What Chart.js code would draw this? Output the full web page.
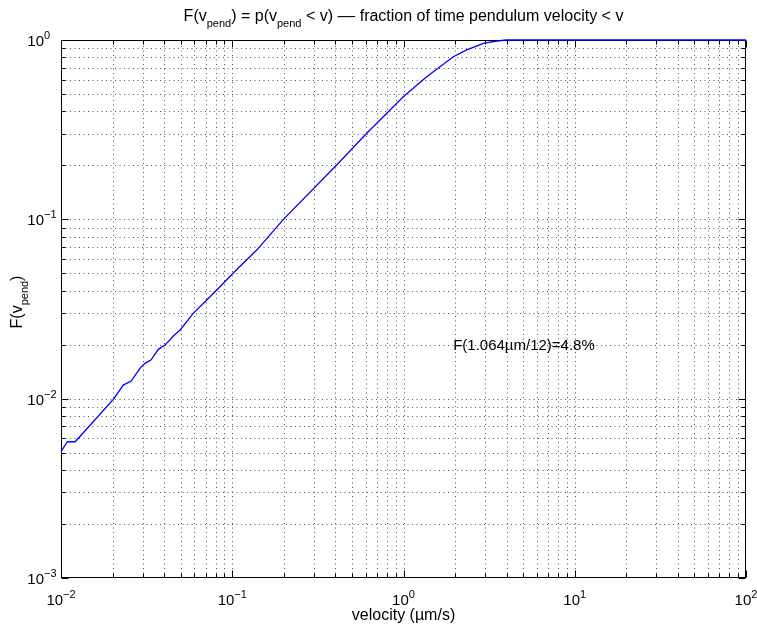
<!DOCTYPE html>
<html><head><meta charset="utf-8">
<script src="https://cdn.jsdelivr.net/npm/chart.js@4/dist/chart.umd.min.js"></script>
<style>html,body{margin:0;padding:0;background:#fff}#wrap{width:757px;height:624px;position:relative}</style>
</head><body><div id="wrap"><canvas id="c" width="757" height="624"></canvas></div>
<script>
// ---- data ----
const velocity = [0.01, 0.0109, 0.0121, 0.0202, 0.0231, 0.0257, 0.0289, 0.0309, 0.0335, 0.0370, 0.0405, 0.0453, 0.0496, 0.0592, 0.0710, 0.0848, 0.101, 0.139, 0.199, 0.407, 0.61, 0.762, 0.997, 1.366, 1.954, 2.34, 2.93, 3.5, 4.0, 100];
const fraction = [0.00506, 0.00575, 0.00575, 0.0099, 0.0119, 0.01254, 0.01475, 0.01574, 0.01642, 0.01884, 0.0199, 0.02234, 0.02415, 0.0299, 0.0355, 0.0421, 0.0500, 0.0674, 0.100, 0.201, 0.302, 0.373, 0.483, 0.624, 0.807, 0.88, 0.958, 0.987, 1.0, 1.0];
const xDecades = [-2, -1, 0, 1, 2];
const yDecades = [-3, -2, -1, 0];
const titleParts = [["F(v", 0], ["pend", -1], [") = p(v", 0], ["pend", -1], [" < v) –– fraction of time pendulum velocity < v", 0]];
const xLabelText = "velocity (µm/s)";
const yLabelParts = [["F(v", 0], ["pend", -1], [")", 0]];
const annotationText = "F(1.064µm/12)=4.8%";
const annotationAnchor = {x: 1.95, y: 0.0187};

const FONT = '"Liberation Sans", Arial, Helvetica, sans-serif';
const FS = 15;      // tick labels, annotation
const FS_LAB = 16;  // title and axis labels
const SUB = 11;     // subscript / superscript size

function minorTicks(decades) {
  const t = [];
  for (let i = 0; i < decades.length - 1; i++)
    for (let d = 1; d <= 9; d++) t.push(d * Math.pow(10, decades[i]));
  t.push(Math.pow(10, decades[decades.length - 1]));
  return t;
}
const xTickVals = minorTicks(xDecades);
const yTickVals = minorTicks(yDecades);

function partsWidth(ctx, parts, size) {
  let w = 0;
  for (const [s, lvl] of parts) {
    ctx.font = (lvl ? SUB : size) + 'px ' + FONT;
    w += ctx.measureText(s).width;
  }
  return w;
}
function drawParts(ctx, parts, x, y, size) {
  let cx = x;
  for (const [s, lvl] of parts) {
    const fs = lvl ? SUB : size;
    ctx.font = fs + 'px ' + FONT;
    const dy = lvl < 0 ? 6 : (lvl > 0 ? -7 : 0);
    ctx.fillText(s, cx, y + dy);
    cx += ctx.measureText(s).width;
  }
}

const decorPlugin = {
  id: 'decor',
  beforeDatasetsDraw(chart) {
    const ctx = chart.ctx, a = chart.chartArea;
    const xs = chart.scales.x, ys = chart.scales.y;
    ctx.save();
    ctx.strokeStyle = '#555';
    ctx.lineWidth = 1;
    ctx.setLineDash([1, 3.5]);
    for (const v of xTickVals) {
      const px = Math.round(xs.getPixelForValue(v)) + 0.5;
      if (px <= a.left + 1 || px >= a.right - 1) continue;
      ctx.beginPath(); ctx.moveTo(px, a.bottom); ctx.lineTo(px, a.top); ctx.stroke();
    }
    for (const v of yTickVals) {
      const py = Math.round(ys.getPixelForValue(v)) + 0.5;
      if (py <= a.top + 1 || py >= a.bottom - 1) continue;
      ctx.beginPath(); ctx.moveTo(a.left, py); ctx.lineTo(a.right, py); ctx.stroke();
    }
    ctx.setLineDash([]);
    ctx.strokeStyle = '#000';
    const L = Math.round(a.left) + 0.5, R = Math.round(a.right) - 0.5;
    const T = Math.round(a.top) + 0.5, B = Math.round(a.bottom) - 0.5;
    ctx.strokeRect(L, T, R - L, B - T);
    for (const v of xTickVals) {
      const major = Math.abs(Math.log10(v) - Math.round(Math.log10(v))) < 1e-9;
      const len = major ? 7 : 4;
      const px = Math.round(xs.getPixelForValue(v)) + 0.5;
      ctx.beginPath();
      ctx.moveTo(px, B); ctx.lineTo(px, B - len);
      ctx.moveTo(px, T); ctx.lineTo(px, T + len);
      ctx.stroke();
    }
    for (const v of yTickVals) {
      const major = Math.abs(Math.log10(v) - Math.round(Math.log10(v))) < 1e-9;
      const len = major ? 7 : 4;
      const py = Math.round(ys.getPixelForValue(v)) + 0.5;
      ctx.beginPath();
      ctx.moveTo(L, py); ctx.lineTo(L + len, py);
      ctx.moveTo(R, py); ctx.lineTo(R - len, py);
      ctx.stroke();
    }
    ctx.restore();
  },
  afterDatasetsDraw(chart) {
    const ctx = chart.ctx, a = chart.chartArea;
    const xs = chart.scales.x, ys = chart.scales.y;
    ctx.save();
    ctx.fillStyle = '#000';
    ctx.textBaseline = 'alphabetic';
    ctx.textAlign = 'left';
    for (const d of xDecades) {
      const parts = [["10", 0], [String(d).replace('-', '\u2212'), 1]];
      const w = partsWidth(ctx, parts, FS);
      const px = xs.getPixelForValue(Math.pow(10, d));
      drawParts(ctx, parts, px - w / 2, 605, FS);
    }
    for (const d of yDecades) {
      const parts = [["10", 0], [String(d).replace('-', '\u2212'), 1]];
      ctx.font = FS + 'px ' + FONT;
      const w10 = ctx.measureText("10").width;
      const py = ys.getPixelForValue(Math.pow(10, d));
      drawParts(ctx, parts, 44 - w10, py + 6, FS);
    }
    const tw = partsWidth(ctx, titleParts, FS_LAB);
    drawParts(ctx, titleParts, (a.left + a.right) / 2 - tw / 2, 21, FS_LAB);
    ctx.font = FS_LAB + 'px ' + FONT;
    ctx.textAlign = 'center';
    ctx.fillText(xLabelText, (a.left + a.right) / 2, 620);
    ctx.textAlign = 'left';
    const yw = partsWidth(ctx, yLabelParts, FS_LAB);
    ctx.save();
    ctx.translate(22, 302);
    ctx.rotate(-Math.PI / 2);
    drawParts(ctx, yLabelParts, -yw / 2, 0, FS_LAB);
    ctx.restore();
    ctx.font = FS + 'px ' + FONT;
    ctx.fillText(annotationText, xs.getPixelForValue(annotationAnchor.x), ys.getPixelForValue(annotationAnchor.y));
    ctx.restore();
  }
};

const points = velocity.map((v, i) => ({x: v, y: fraction[i]}));

new Chart(document.getElementById('c'), {
  type: 'line',
  data: {
    datasets: [{
      data: points,
      borderColor: '#0000ff',
      borderWidth: 1.3,
      pointRadius: 0,
      tension: 0,
      fill: false,
      clip: 3
    }]
  },
  options: {
    responsive: false,
    animation: false,
    devicePixelRatio: 1,
    layout: {padding: {left: 61, top: 40, right: 11, bottom: 46}},
    plugins: {legend: {display: false}, tooltip: {enabled: false}, title: {display: false}},
    scales: {
      x: {
        type: 'logarithmic', min: 0.01, max: 100,
        afterBuildTicks: s => { s.ticks = xTickVals.map(v => ({value: v})); },
        ticks: {display: false}, grid: {display: false, drawTicks: false}, border: {display: false}
      },
      y: {
        type: 'logarithmic', min: 0.001, max: 1,
        afterBuildTicks: s => { s.ticks = yTickVals.map(v => ({value: v})); },
        ticks: {display: false}, grid: {display: false, drawTicks: false}, border: {display: false}
      }
    }
  },
  plugins: [decorPlugin]
});
</script>
</body></html>
